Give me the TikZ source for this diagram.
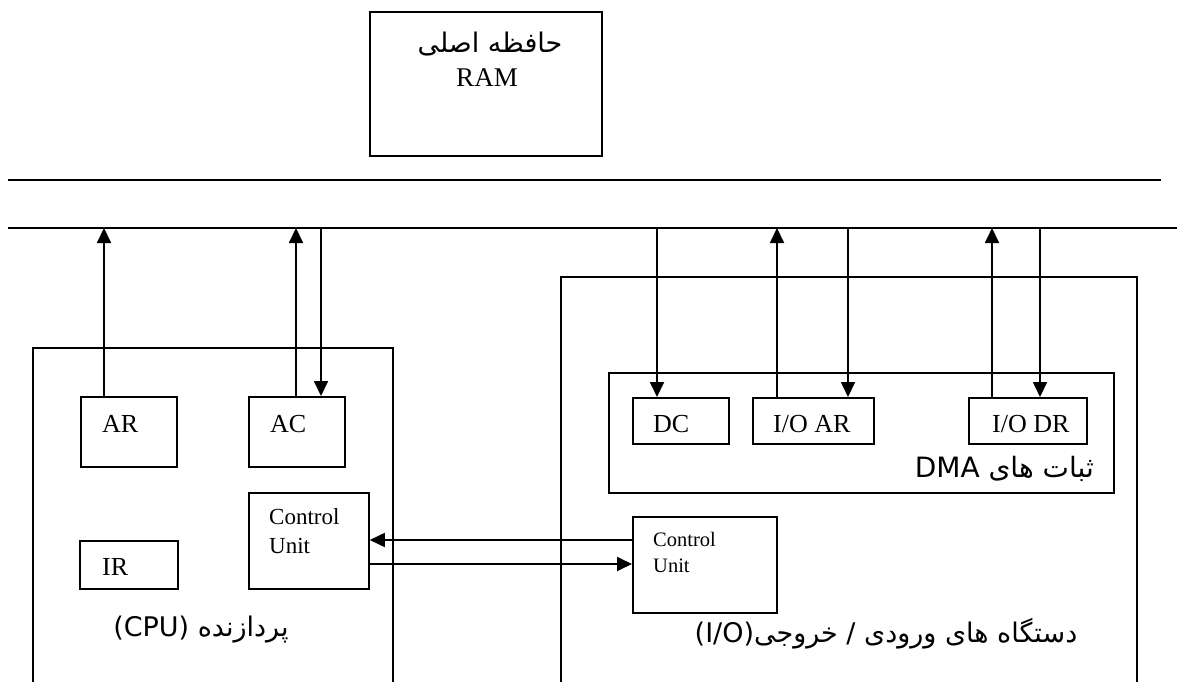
\documentclass[tikz,border=0pt]{standalone}
\usepackage{fontspec}
\setmainfont{Liberation Serif}
\newfontfamily\fa[Script=Arabic]{DejaVu Sans}
\TeXXeTstate=1
\usetikzlibrary{arrows.meta,calc}

\begin{document}
\begin{tikzpicture}[x=1pt,y=-1pt,
  frame/.style={draw, line width=1.8pt, inner sep=0pt, anchor=north west},
  wire/.style={line width=1.8pt},
  link/.style={line width=1.8pt, -{Triangle[length=15pt,width=14pt]}},
  reg/.style={font=\fontsize{26}{30}\selectfont, inner sep=0pt, anchor=base west},
  cutext/.style={inner sep=0pt, anchor=north west, align=left},
  fatext/.style={inner sep=0pt, anchor=base},
]
\useasboundingbox (0,0) rectangle (1177,682);
\clip (0,0) rectangle (1177,682);

% main memory
\node[frame, minimum width=232pt, minimum height=144pt] (ram) at (369,11) {};
\node[fatext, font=\fa\fontsize{27}{30}\selectfont] (ramfa) at (490,53) {\beginR حافظه اصلی\endR};
\node[fatext, font=\fontsize{27}{30}\selectfont] (ramen) at (487,87) {RAM};

% system bus
\coordinate (busAL) at (8,180);
\coordinate (busAR) at (1161,180);
\coordinate (busBL) at (8,228);
\coordinate (busBR) at (1177,228);
\draw[wire] (busAL) -- (busAR);
\draw[wire] (busBL) -- (busBR);

% processor
\node[frame, minimum width=360pt, minimum height=380pt] (cpu) at (32,347) {};
\node[frame, minimum width=96pt, minimum height=70pt] (ar) at (80,396) {};
\node[frame, minimum width=96pt, minimum height=70pt] (ac) at (248,396) {};
\node[frame, minimum width=98pt, minimum height=48pt] (ir) at (79,540) {};
\node[frame, minimum width=120pt, minimum height=96pt] (cpucu) at (248,492) {};
\node[reg] (artx) at ($(ar.north west)+(22,36)$) {AR};
\node[reg] (actx) at ($(ac.north west)+(22,36)$) {AC};
\node[reg] (irtx) at ($(ir.north west)+(23,35)$) {IR};
\node[cutext, font=\fontsize{23}{29}\selectfont] (cpucutx) at ($(cpucu.north west)+(21,16)$) {Control\\Unit};
\node[fatext, font=\fa\fontsize{27}{30}\selectfont] (cpulbl) at (201,636) {\beginR پردازنده \beginL(CPU)\endL\endR};

% input / output with DMA
\node[frame, minimum width=576pt, minimum height=430pt] (io) at (560,276) {};
\node[frame, minimum width=505pt, minimum height=120pt] (dma) at (608,372) {};
\node[frame, minimum width=96pt, minimum height=46pt] (dc) at (632,397) {};
\node[frame, minimum width=121pt, minimum height=46pt] (ioar) at (752,397) {};
\node[frame, minimum width=118pt, minimum height=46pt] (iodr) at (968,397) {};
\node[reg] (dctx) at ($(dc.north west)+(21,35)$) {DC};
\node[reg] (ioartx) at ($(ioar.north west)+(21,35)$) {I/O AR};
\node[reg] (iodrtx) at ($(iodr.north west)+(24,35)$) {I/O DR};
\node[fatext, font=\fa\fontsize{28}{30}\selectfont, anchor=base east] (dmalbl) at (1094,477) {\beginR ثبات های \beginL DMA\endL\endR};
\node[frame, minimum width=144pt, minimum height=96pt] (iocu) at (632,516) {};
\node[cutext, font=\fontsize{20.5}{26}\selectfont] (iocutx) at ($(iocu.north west)+(21,16)$) {Control\\Unit};
\node[fatext, font=\fa\fontsize{27}{30}\selectfont] (iolbl) at (886,642) {\beginR دستگاه های ورودی / خروجی\beginL(I/O)\endL\endR};

% bus taps
\coordinate (t1) at (104,228);
\coordinate (t2) at (296,228);
\coordinate (t3) at (321,228);
\coordinate (t4) at (657,228);
\coordinate (t5) at (777,228);
\coordinate (t6) at (848,228);
\coordinate (t7) at (992,228);
\coordinate (t8) at (1040,228);
\draw[link] (ar.north -| t1) -- (t1);
\draw[link] (ac.north -| t2) -- (t2);
\draw[link] (t3) -- (ac.north -| t3);
\draw[link] (t4) -- (dc.north -| t4);
\draw[link] (ioar.north -| t5) -- (t5);
\draw[link] (t6) -- (ioar.north -| t6);
\draw[link] (iodr.north -| t7) -- (t7);
\draw[link] (t8) -- (iodr.north -| t8);

% control handshake between the two control units
\coordinate (h1) at (500,540);
\coordinate (h2) at (500,564);
\draw[link] (iocu.west |- h1) -- (cpucu.east |- h1);
\draw[link] (cpucu.east |- h2) -- (iocu.west |- h2);
\end{tikzpicture}
\end{document}
